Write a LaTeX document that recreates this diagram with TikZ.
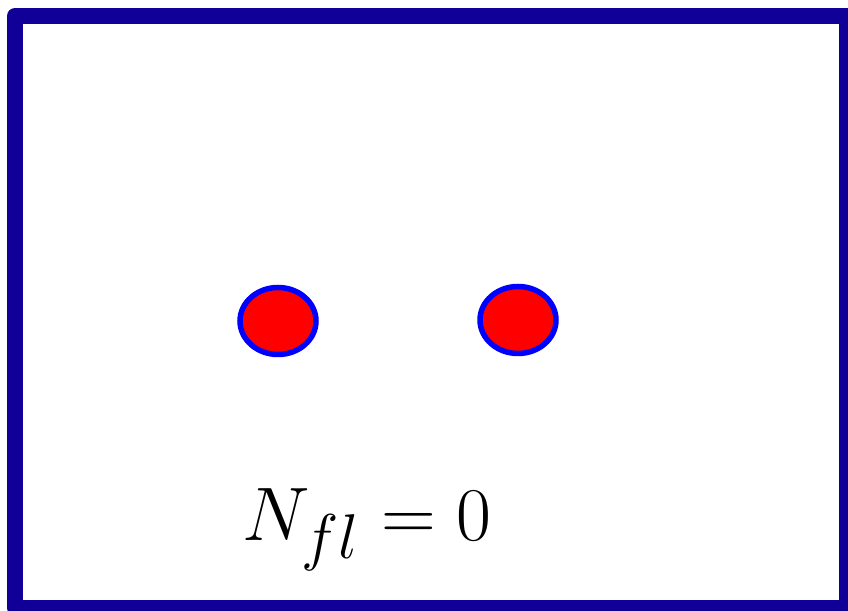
\documentclass[tikz,border=0pt]{standalone}
\definecolor{frameblue}{RGB}{16,0,152}
\definecolor{dotblue}{RGB}{0,0,255}
\definecolor{dotred}{RGB}{255,0,0}
\tikzset{
  frame/.style={draw=frameblue,line width=16pt,line join=round},
  dot/.style={draw=dotblue,fill=dotred,line width=5.5pt},
  label/.style={inner sep=0pt,scale=3.05}
}
\begin{document}
\begin{tikzpicture}[x=1pt,y=1pt]
\useasboundingbox (0,0) rectangle (848,610);
\begin{scope}
\clip (0,0) rectangle (848,610);
\draw[frame] (15,594) rectangle (847,2);
\end{scope}
\draw[dot] (278,289) ellipse [x radius=38,y radius=33.5];
\draw[dot] (518,290) ellipse [x radius=38,y radius=33.5];
\node[label,anchor=base] (eq) at (367,69) {\Huge $N_{fl} = 0$};
\end{tikzpicture}
\end{document}
